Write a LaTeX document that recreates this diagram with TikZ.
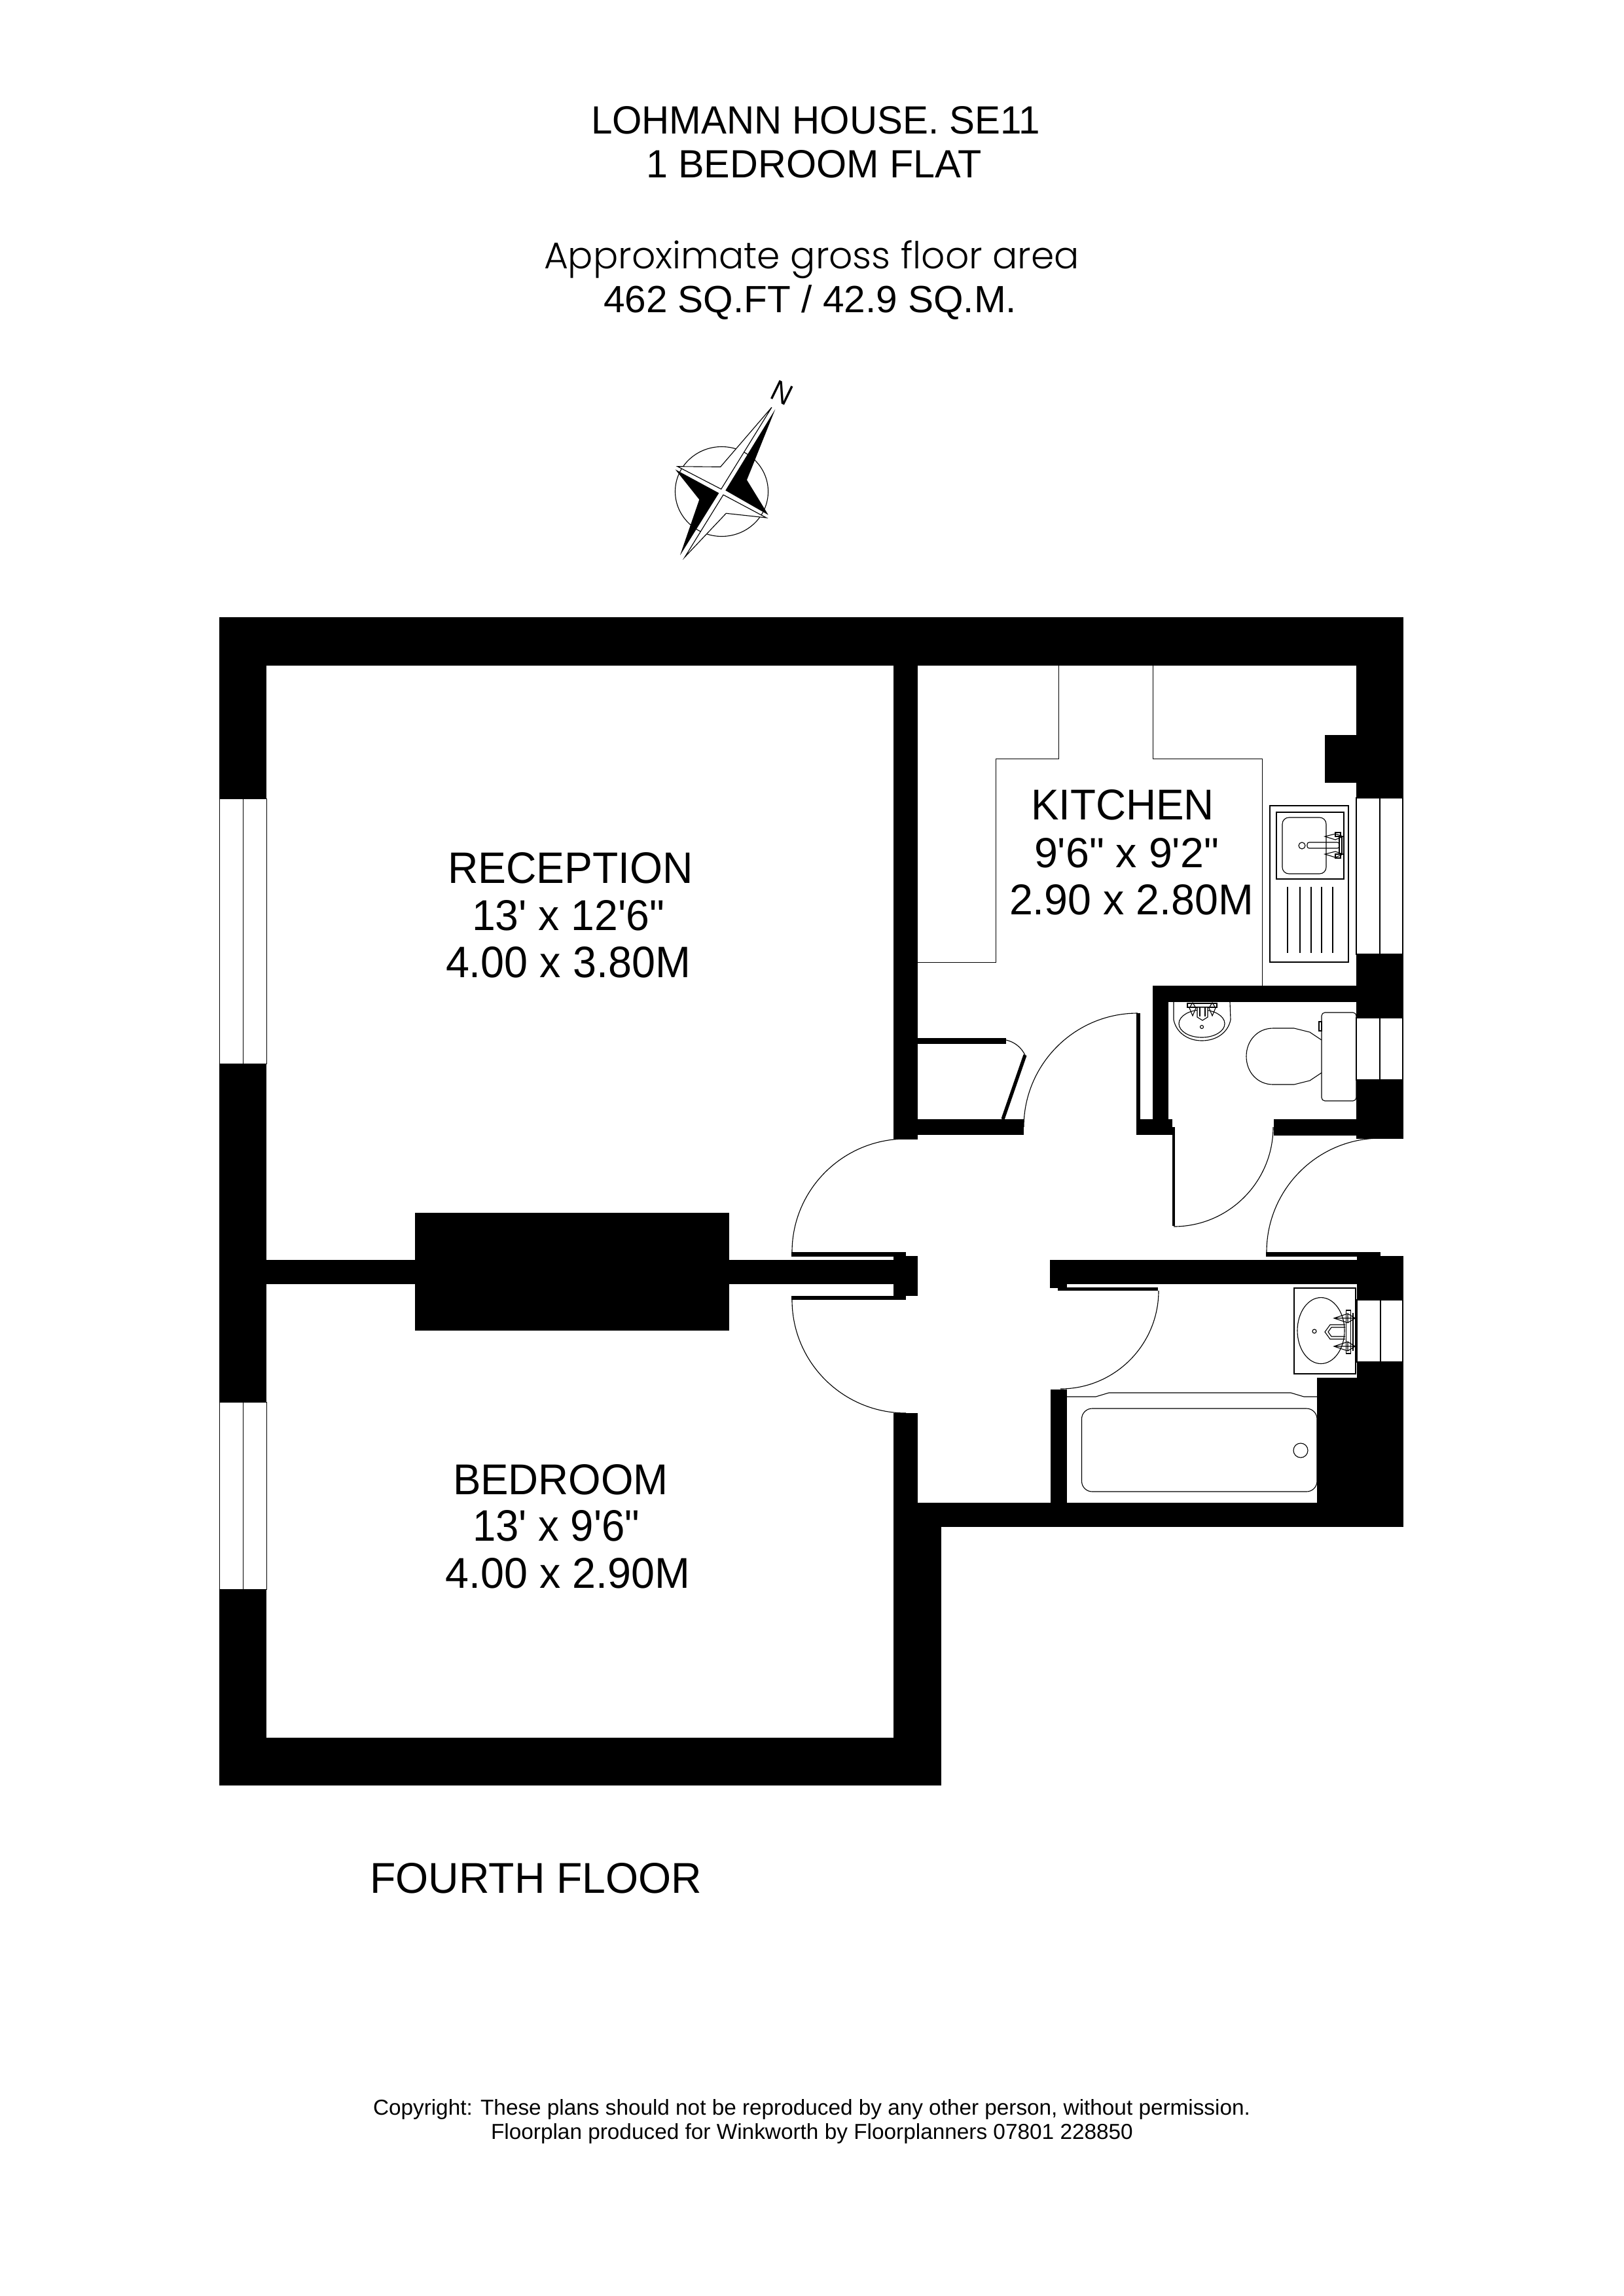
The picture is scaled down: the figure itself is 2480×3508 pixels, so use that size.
\documentclass[tikz,border=0pt]{standalone}
\usepackage{graphicx}
\usepackage{fontspec}
\setmainfont{Liberation Sans}
\newfontfamily\plainsans{Liberation Sans}
\newfontfamily\geofont{Poppins Light}
\newdimen\pxu \pxu=0.01cm
\newcommand\fit[3]{\resizebox{\dimexpr#1\pxu+8\pxu\relax}{#2\pxu}{\plainsans #3}}
\newcommand\fitsmall[3]{\resizebox{\dimexpr#1\pxu+4\pxu\relax}{#2\pxu}{\plainsans #3}}
\newcommand\wall[4]{\fill[wallfill] (#1,#2) rectangle (#3,#4);}
\newcommand\qarc[4]{\draw[thin line] ({#1+#3},#2) .. controls ({#1+#3},{#2+.5523*#4}) and ({#1+.5523*#3},{#2+#4}) .. (#1,{#2+#4});}
\tikzset{
  wallfill/.style={fill=black},
  thin line/.style={draw=black,line width=0.32pt},
  hairline/.style={draw=black,line width=0.25pt},
  label/.style={anchor=base west,inner sep=0pt,outer sep=0pt,text=black,xshift=-0.04cm},
  smalllabel/.style={anchor=base west,inner sep=0pt,outer sep=0pt,text=black,xshift=-0.02cm}
}
\begin{document}
\begin{tikzpicture}[x=0.01cm,y=-0.01cm]
\useasboundingbox (0,0) rectangle (2480,3508);
\fill[white] (0,0) rectangle (2480,3508);

% door swings
\qarc{1384}{1913}{-174}{-173}
\qarc{1384}{1986}{-174}{173}
\qarc{1738}{1722}{-174}{-174}
\qarc{1793}{1722}{152}{152}
\qarc{1620}{1972}{150}{150}
\qarc{2109}{1913}{-174}{-174}
\draw[thin line] (1537,1589) .. controls (1550,1592) and (1560,1600) .. (1566,1612);

% kitchen units
\draw[hairline] (1617,1017) -- (1617,1159) -- (1521,1159) -- (1521,1470) -- (1402,1470);
\draw[hairline] (1761,1017) -- (1761,1159) -- (1928,1159) -- (1928,1506);

% windows
\draw[hairline] (335,1220) rectangle (407,1625) (371,1220) -- (371,1625);
\draw[hairline] (335,2142) rectangle (407,2428) (371,2142) -- (371,2428);
\draw[thin line] (2072,1219) rectangle (2143,1458) (2108,1219) -- (2108,1458);
\draw[thin line] (2072,1555) rectangle (2143,1650) (2108,1555) -- (2108,1650);
\draw[thin line] (2073,1986) rectangle (2143,2081) (2109,1986) -- (2109,2081);

% outer walls
\wall{335}{943}{2144}{1017}
\wall{335}{943}{407}{1220}
\wall{335}{1625}{407}{2142}
\wall{335}{2428}{407}{2728}
\wall{335}{2655}{1438}{2728}
\wall{1365}{2159}{1402}{2655}
\wall{1402}{2296}{1438}{2655}
\wall{1365}{2296}{2144}{2333}
\wall{2072}{943}{2144}{1219}
\wall{2024}{1123}{2072}{1196}
\wall{2072}{1458}{2144}{1555}
\wall{2072}{1650}{2144}{1740}
\wall{2109}{1919}{2144}{1986}
\wall{2073}{1913}{2109}{1986}
\wall{2073}{2081}{2144}{2333}
\wall{2012}{2105}{2144}{2333}

% internal walls
\wall{1365}{1017}{1402}{1741}
\wall{407}{1925}{1365}{1962}
\wall{634}{1853}{1114}{2033}
\wall{1365}{1919}{1402}{1980}
\wall{1402}{1710}{1564}{1734}
\wall{1736}{1710}{1791}{1734}
\wall{1761}{1506}{2072}{1531}
\wall{1761}{1506}{1785}{1710}
\wall{1946}{1710}{2072}{1735}
\wall{1604}{1925}{2073}{1962}
\wall{1604}{1962}{1630}{1968}
\wall{1616}{1962}{1630}{1972}
\wall{1605}{2123}{1630}{2296}

% door leaves
\wall{1209}{1913}{1384}{1920}
\wall{1209}{1980}{1384}{1986}
\wall{1365}{1913}{1384}{1986}
\wall{1736}{1548}{1742}{1710}
\wall{1791}{1722}{1795}{1873}
\wall{1616}{1967}{1769}{1972}
\wall{1934}{1913}{2109}{1920}
\wall{1402}{1586}{1537}{1595}
\draw[line width=1.5pt] (1566,1612) -- (1532,1710);

% kitchen sink
\draw[thin line] (1940,1231) rectangle (2060,1470);
\draw[thin line] (1950,1241) rectangle (2053,1343);
\draw[thin line,rounded corners=.1cm] (1959,1249) rectangle (2026,1335);
\draw[thin line] (1989,1292) circle [radius=5];
\draw[thin line,rounded corners=.03cm] (1997,1287) rectangle (2046,1296);
\draw[thin line] (2024,1278) -- (2040,1274) -- (2052,1278) -- (2040,1283) -- cycle;
\draw[thin line] (2024,1305) -- (2040,1301) -- (2052,1305) -- (2040,1310) -- cycle;
\draw[thin line] (2046,1278) rectangle (2050,1305);
\draw[thin line] (2040,1272) rectangle (2048,1278) (2040,1305) rectangle (2048,1311);
\foreach \dx in {1967,1986,2003,2019,2036} {\draw[thin line] (\dx,1355) -- (\dx,1456);}

% WC
\draw[thin line,rounded corners=.05cm] (2019,1547) rectangle (2072,1682);
\draw[thin line] (2015,1561) rectangle (2019,1575);
\draw[thin line] (2019,1589) -- (2001,1577) -- (1977,1571) -- (1945,1571)
  .. controls (1921,1571) and (1904,1590) .. (1904,1614)
  .. controls (1904,1638) and (1921,1657) .. (1945,1657)
  -- (1977,1657) -- (2001,1651) -- (2019,1639);
% WC basin
\draw[thin line] (1793,1531) -- (1793,1558) .. controls (1797,1578) and (1815,1590) .. (1836,1590)
  .. controls (1858,1590) and (1876,1578) .. (1880,1558) -- (1879,1531);
\draw[thin line] (1836,1564) ellipse [x radius=35,y radius=21];
\draw[thin line] (1836,1569) circle [radius=2.5];
\fill[white] (1814,1532) rectangle (1859,1539);
\draw[thin line] (1814,1533) rectangle (1859,1539);
\fill[white] (1829,1539) -- (1829,1554) -- (1837,1559) -- (1845,1554) -- (1845,1539) -- cycle;
\draw[thin line] (1829,1539) -- (1829,1554) -- (1837,1559) -- (1845,1554) -- (1845,1539) -- cycle;
\draw[thin line] (1833,1539) -- (1833,1553) (1841,1539) -- (1841,1553);
\draw[thin line] (1822,1532) -- (1827,1540) -- (1822,1552) -- (1817,1540) -- cycle;
\draw[thin line] (1852,1532) -- (1857,1540) -- (1852,1552) -- (1847,1540) -- cycle;

% bath
\draw[thin line] (1630,2134) -- (1674,2134) -- (1694,2128) -- (1972,2128) -- (1992,2134) -- (2012,2134);
\draw[thin line,rounded corners=.16cm] (1652.5,2152) rectangle (2012,2279);
\draw[thin line] (1987,2216) circle [radius=11];

% wash basin
\draw[thin line] (1977,1968) rectangle (2071,2099);
\draw[thin line] (2018,2033) ellipse [x radius=36,y radius=50.5];
\draw[thin line] (2008,2034) circle [radius=3];
\draw[thin line] (2055,2024) -- (2032,2024) -- (2024,2035) -- (2032,2046) -- (2055,2046);
\draw[thin line] (2055,2028) -- (2034,2028) -- (2029,2035) -- (2034,2042) -- (2055,2042);
\draw[thin line] (2056.5,2002) rectangle (2063.5,2068);
\draw[thin line] (2067,2006) -- (2067,2064);
\draw[thin line] (2038,2014) -- (2059,2007) -- (2070,2014) -- (2059,2021) -- cycle (2038,2014) -- (2070,2014) (2059,2007) -- (2059,2021);
\draw[thin line] (2038,2057) -- (2059,2050) -- (2070,2057) -- (2059,2064) -- cycle (2038,2057) -- (2070,2057) (2059,2050) -- (2059,2064);

% compass
\draw[thin line] (1102.5,751) ellipse [x radius=71,y radius=68.5];
\fill[white] (1179,622.3) -- (1100.7,713.3) -- (1035,712.7) -- (1101.7,747.3) -- cycle;
\fill[white] (1046.3,851) -- (1109.3,784.3) -- (1170.7,791) -- (1105,756) -- cycle;
\draw[thin line] (1179,622.3) -- (1100.7,713.3) -- (1035,712.7) -- (1101.7,747.3) -- cycle;
\draw[thin line] (1046.3,851) -- (1109.3,784.3) -- (1170.7,791) -- (1105,756) -- cycle;
\fill[black] (1184.3,625.3) -- (1141,733.3) -- (1173.7,786.7) -- (1108.3,749.3) -- cycle;
\fill[black] (1031.7,717.3) -- (1068.3,763.3) -- (1039,848.3) -- (1098.3,753.3) -- cycle;
\node[inner sep=0pt,rotate=-26] (compassN) at (1195,600) {\resizebox{30\pxu}{31\pxu}{\plainsans N}};

% texts
\node[label] (title1) at (907,204) {\fit{678}{42}{LOHMANN HOUSE. SE11}};
\node[label] (title2) at (991,271) {\fit{505}{42}{1 BEDROOM FLAT}};
\node[smalllabel] (area1) at (833,410) {\resizebox{818\pxu}{43\pxu}{\geofont Approximate gross floor area}};
\node[label] (area2) at (926,477) {\fit{623}{42}{462 SQ.FT / 42.9 SQ.M.}};
\node[label] (kit1) at (1579,1252) {\fit{272}{46}{KITCHEN}};
\node[label] (kit2) at (1584,1325) {\fit{274}{45}{9'6" x 9'2"}};
\node[label] (kit3) at (1546,1397) {\fit{365}{46}{2.90 x 2.80M}};
\node[label] (rec1) at (688,1349.5) {\fit{367}{47}{RECEPTION}};
\node[label] (rec2) at (725,1421) {\fit{286}{46}{13' x 12'6"}};
\node[label] (rec3) at (685,1493) {\fit{366}{47}{4.00 x 3.80M}};
\node[label] (bed1) at (696,2283) {\fit{321}{46}{BEDROOM}};
\node[label] (bed2) at (726,2354) {\fit{247}{47}{13' x 9'6"}};
\node[label] (bed3) at (684.5,2426.5) {\fit{365.5}{46}{4.00 x 2.90M}};
\node[label] (floor) at (569.5,2892.7) {\fit{499}{46}{FOURTH FLOOR}};
\node[smalllabel] (copy1) at (572,3231) {\fitsmall{1336}{24}{Copyright: These plans should not be reproduced by any other person, without permission.}};
\node[smalllabel] (copy2) at (752,3268) {\fitsmall{977}{24}{Floorplan produced for Winkworth by Floorplanners 07801 228850}};
\end{tikzpicture}
\end{document}
